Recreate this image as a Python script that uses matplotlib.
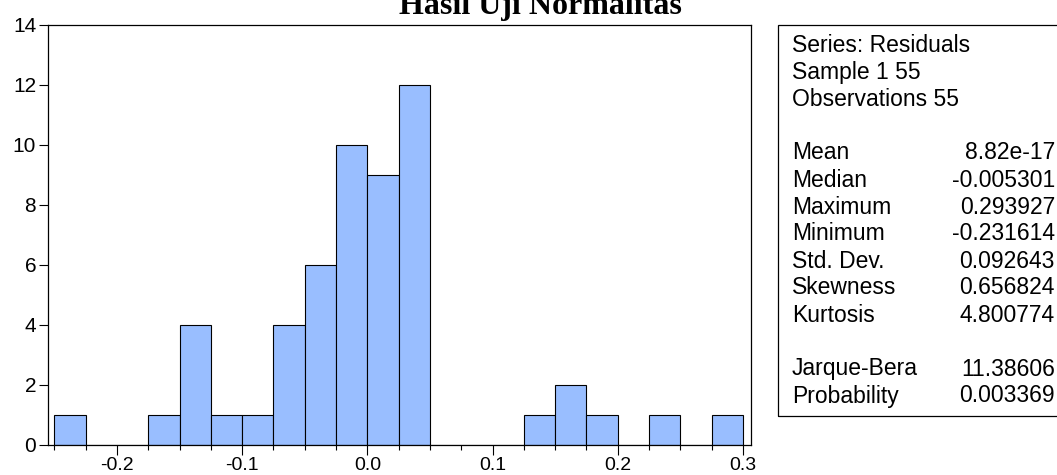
import matplotlib
matplotlib.use('Agg')
import matplotlib.pyplot as plt
import numpy as np
from matplotlib.patches import Rectangle

# histogram of residuals (bin width 0.025)
bin_left = [-0.250, -0.225, -0.200, -0.175, -0.150, -0.125, -0.100, -0.075,
            -0.050, -0.025, 0.000, 0.025, 0.050, 0.075, 0.100, 0.125,
            0.150, 0.175, 0.200, 0.225, 0.250, 0.275]
counts = [1, 0, 0, 1, 4, 1, 1, 4, 6, 10, 9, 12, 0, 0, 0, 1, 2, 1, 0, 1, 0, 1]
bin_width = 0.025

x_ticks = [-0.2, -0.1, 0.0, 0.1, 0.2, 0.3]
y_ticks = [0, 2, 4, 6, 8, 10, 12, 14]

stat_head = ["Series: Residuals", "Sample 1 55", "Observations 55"]
stat_names = ["Mean", "Median", "Maximum", "Minimum", "Std. Dev.",
              "Skewness", "Kurtosis"]
stat_values = ["8.82e-17", "-0.005301", "0.293927", "-0.231614", "0.092643",
               "0.656824", "4.800774"]
test_names = ["Jarque-Bera", "Probability"]
test_values = ["11.38606", "0.003369"]

W, H = 1057, 475
fig = plt.figure(figsize=(W / 100, H / 100), dpi=100)
plt.rcParams['font.family'] = ['Liberation Sans', 'DejaVu Sans']

ax = fig.add_axes([48 / W, 1 - 445 / H, (751 - 48) / W, (445 - 25) / H])
ax.bar(bin_left, counts, width=bin_width, align='edge',
       color='#99BEFF', edgecolor='black', linewidth=0.8)

ax.set_xlim(-0.2551, 0.3064)
ax.set_ylim(0, 14)
ax.set_xticks(x_ticks)
ax.set_xticks(np.arange(-0.25, 0.3001, 0.025), minor=True)
ax.set_yticks(y_ticks)
ax.set_xticklabels(["%.1f" % v for v in x_ticks], fontsize=14)
ax.set_yticklabels([str(v) for v in y_ticks], fontsize=15)
ax.tick_params(axis='both', which='major', direction='out', length=7,
               width=0.8, colors='black')
ax.tick_params(axis='x', which='major', pad=2)
ax.tick_params(axis='y', which='major', length=6.5, pad=2)
ax.tick_params(axis='x', which='minor', direction='out', length=3.6, width=0.8)
for s in ax.spines.values():
    s.set_linewidth(0.9)

# title (cut off at the top of the page)
fig.text(540 / W, 1 - 14 / H, "Hasil Uji Normalitas", ha='center',
         va='baseline', fontsize=23, fontweight='bold',
         family='Liberation Serif')

# statistics box
fig.patches.append(Rectangle((778 / W, 1 - 416 / H), (1070 - 778) / W,
                             (416 - 25) / H, transform=fig.transFigure,
                             fill=False, edgecolor='black', linewidth=0.9))
fs = 16.5
line_h = 27
y0 = 45
for i, t in enumerate(stat_head):
    fig.text(792 / W, 1 - (y0 + i * line_h) / H, t, va='center', fontsize=fs)
ym = y0 + 4 * line_h
for i, (n, v) in enumerate(zip(stat_names, stat_values)):
    y = 1 - (ym + i * line_h) / H
    fig.text(792 / W, y, n, va='center', fontsize=fs)
    fig.text(1055 / W, y, v, va='center', ha='right', fontsize=fs)
yj = ym + 8 * line_h
for i, (n, v) in enumerate(zip(test_names, test_values)):
    y = 1 - (yj + i * line_h) / H
    fig.text(792 / W, y, n, va='center', fontsize=fs)
    fig.text(1055 / W, y, v, va='center', ha='right', fontsize=fs)

fig.savefig('out.png', dpi=100)
